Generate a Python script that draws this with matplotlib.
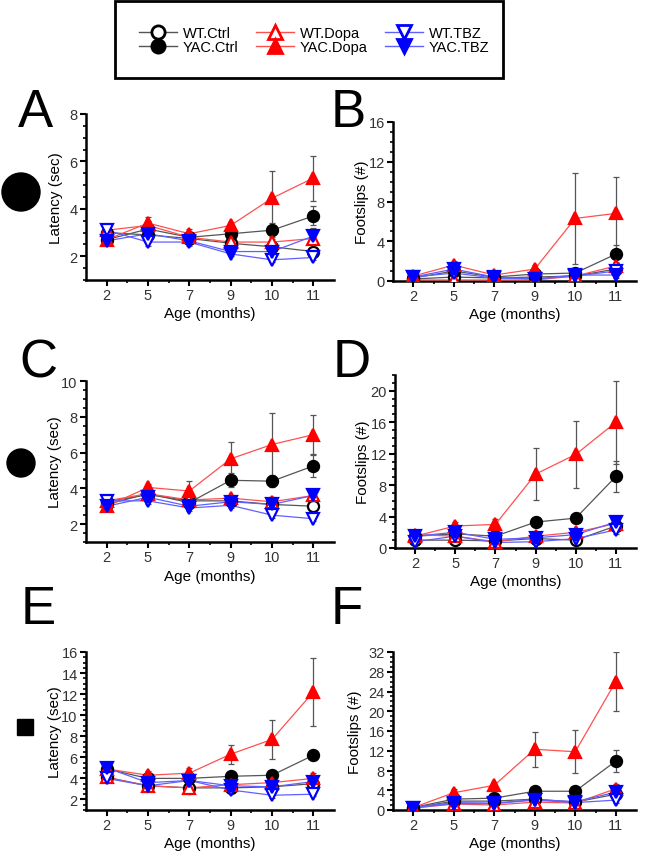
import matplotlib
matplotlib.use('Agg')
import matplotlib.pyplot as plt
import matplotlib.patches as patches
from matplotlib.lines import Line2D
from matplotlib.ticker import MultipleLocator

plt.rcParams['font.family'] = ['Liberation Sans', 'DejaVu Sans']

ages = ['2', '5', '7', '9', '10', '11']
groups = ['WT.Ctrl', 'YAC.Ctrl', 'WT.Dopa', 'YAC.Dopa', 'WT.TBZ', 'YAC.TBZ']

# panel A - latency
A_mean = [[3.0, 2.9, 2.75, 2.55, 2.4, 2.2],
          [2.7, 3.15, 2.8, 2.95, 3.1, 3.7],
          [3.1, 3.3, 2.8, 2.6, 2.6, 2.75],
          [2.7, 3.4, 2.95, 3.3, 4.45, 5.3],
          [3.1, 2.6, 2.6, 2.1, 1.85, 1.95],
          [2.65, 2.95, 2.65, 2.2, 2.2, 2.85]]
A_err = [[0.15, 0.2, 0.15, 0.15, 0.15, 0.2],
         [0.15, 0.3, 0.15, 0.2, 0.3, 0.4],
         [0.15, 0.2, 0.15, 0.15, 0.15, 0.15],
         [0.15, 0.25, 0.2, 0.15, 1.15, 0.95],
         [0.1, 0.15, 0.15, 0.1, 0.1, 0.1],
         [0.1, 0.15, 0.15, 0.1, 0.15, 0.35]]

# panel B - footslips
B_mean = [[0.2, 0.4, 0.3, 0.4, 0.5, 1.2],
          [0.3, 1.0, 0.4, 0.7, 0.8, 2.7],
          [0.1, 0.1, 0.1, 0.1, 0.5, 1.5],
          [0.5, 1.6, 0.6, 1.2, 6.3, 6.8],
          [0.4, 0.8, 0.3, 0.2, 0.5, 1.0],
          [0.4, 1.2, 0.4, 0.2, 0.6, 0.6]]
B_err = [[0.1, 0.2, 0.1, 0.2, 0.2, 0.3],
         [0.2, 0.4, 0.2, 0.3, 0.3, 0.9],
         [0.1, 0.1, 0.1, 0.1, 0.2, 0.4],
         [0.2, 0.4, 0.2, 0.4, 4.6, 3.7],
         [0.2, 0.3, 0.1, 0.1, 0.2, 0.3],
         [0.2, 0.3, 0.2, 0.1, 0.2, 0.3]]

# panel C - latency
C_mean = [[3.25, 3.65, 3.3, 3.3, 3.1, 3.0],
          [3.1, 3.7, 3.2, 4.45, 4.4, 5.25],
          [3.3, 3.7, 3.35, 3.45, 3.25, 3.6],
          [3.0, 4.05, 3.85, 5.65, 6.45, 7.0],
          [3.3, 3.3, 2.9, 3.05, 2.5, 2.3],
          [3.0, 3.5, 3.0, 3.25, 3.1, 3.6]]
C_err = [[0.15, 0.2, 0.15, 0.2, 0.2, 0.2],
         [0.15, 0.2, 0.2, 0.4, 0.35, 0.6],
         [0.15, 0.2, 0.2, 0.2, 0.25, 0.3],
         [0.15, 0.2, 0.55, 0.95, 1.75, 1.1],
         [0.15, 0.15, 0.15, 0.15, 0.15, 0.15],
         [0.15, 0.2, 0.15, 0.15, 0.2, 0.3]]

# panel D - footslips
D_mean = [[1.0, 1.0, 0.9, 1.2, 1.0, 2.8],
          [1.5, 1.8, 1.5, 3.3, 3.8, 9.1],
          [1.7, 1.5, 0.8, 1.5, 2.0, 3.1],
          [1.5, 2.8, 3.0, 9.4, 11.9, 16.0],
          [0.8, 1.5, 0.7, 0.8, 1.2, 2.3],
          [1.5, 2.0, 1.1, 1.3, 1.7, 3.3]]
D_err = [[0.3, 0.3, 0.3, 0.3, 0.3, 0.6],
         [0.3, 0.4, 0.4, 0.6, 0.6, 2.0],
         [0.3, 0.4, 0.3, 0.3, 0.4, 0.7],
         [0.3, 0.5, 0.7, 3.3, 4.3, 5.3],
         [0.3, 0.3, 0.2, 0.3, 0.3, 0.5],
         [0.3, 0.4, 0.3, 0.3, 0.4, 0.7]]

# panel E - latency
E_mean = [[4.1, 3.3, 3.1, 3.1, 3.2, 3.5],
          [4.9, 4.0, 4.0, 4.2, 4.3, 6.2],
          [4.1, 3.3, 3.1, 3.4, 3.6, 4.0],
          [4.9, 4.3, 4.5, 6.3, 7.7, 12.2],
          [4.0, 3.3, 3.8, 2.9, 2.4, 2.5],
          [5.0, 3.6, 3.8, 3.3, 3.2, 3.7]]
E_err = [[0.3, 0.3, 0.3, 0.3, 0.3, 0.3],
         [0.3, 0.3, 0.3, 0.3, 0.4, 0.5],
         [0.3, 0.3, 0.3, 0.3, 0.4, 0.5],
         [0.4, 0.4, 0.5, 0.9, 1.85, 3.2],
         [0.3, 0.3, 0.3, 0.3, 0.3, 0.2],
         [0.4, 0.3, 0.3, 0.3, 0.3, 0.4]]

# panel F - footslips
F_mean = [[0.4, 1.8, 1.8, 2.2, 1.6, 3.2],
          [0.5, 2.2, 2.4, 3.8, 3.8, 9.9],
          [0.4, 1.2, 1.0, 1.6, 1.4, 4.3],
          [0.5, 3.5, 5.0, 12.3, 11.8, 26.0],
          [0.4, 1.3, 1.3, 2.0, 1.5, 2.0],
          [0.5, 1.5, 1.4, 2.1, 1.7, 3.6]]
F_err = [[0.3, 0.5, 0.5, 0.5, 0.4, 0.8],
         [0.3, 0.6, 0.6, 0.7, 0.7, 2.3],
         [0.3, 0.4, 0.4, 0.4, 0.4, 1.0],
         [0.3, 0.7, 0.7, 3.5, 4.4, 6.0],
         [0.3, 0.4, 0.4, 0.4, 0.4, 0.5],
         [0.3, 0.4, 0.4, 0.5, 0.4, 0.8]]

# style per group: marker, marker color, filled, line color
styles = [('o', 'black', False, '#555555'),
          ('o', 'black', True, '#555555'),
          ('^', '#ff0000', False, '#ff5050'),
          ('^', '#ff0000', True, '#ff5050'),
          ('v', '#0000ff', False, '#6060ff'),
          ('v', '#0000ff', True, '#6060ff')]

W, H = 660, 853
fig = plt.figure(figsize=(W / 100, H / 100), dpi=100)

# background overlay in pixel coords (legend box, symbols)
bg = fig.add_axes([0, 0, 1, 1])
bg.set_xlim(0, W)
bg.set_ylim(H, 0)
bg.axis('off')
bg.add_patch(patches.Rectangle((115, 2), 388, 77, fill=False, edgecolor='black', linewidth=2))
bg.add_patch(patches.Circle((21, 193), 19, color='black'))
bg.add_patch(patches.Circle((21, 464), 14, color='black'))
bg.add_patch(patches.Rectangle((17, 720), 16, 16, color='black'))


def px_axes(x0, x1, ytop, ybot):
    return fig.add_axes([x0 / W, 1 - ybot / H, (x1 - x0) / W, (ybot - ytop) / H])


panels = [
    ('A', A_mean, A_err, (86, 334, 115, 281), (1, 8), 2, 'Latency (sec)', -0.093, (18, 88)),
    ('B', B_mean, B_err, (393, 636, 123, 282), (0, 16), 4, 'Footslips (#)', -0.099, (331, 88)),
    ('C', C_mean, C_err, (86, 334, 382, 543), (1, 10), 2, 'Latency (sec)', -0.097, (19, 338)),
    ('D', D_mean, D_err, (395, 636, 376, 549), (0, 22), 4, 'Footslips (#)', -0.104, (333, 338)),
    ('E', E_mean, E_err, (86, 334, 653, 811), (1, 16), 2, 'Latency (sec)', -0.097, (21, 585)),
    ('F', F_mean, F_err, (393, 636, 653, 811), (0, 32), 4, 'Footslips (#)', -0.128, (331, 585)),
]

x = list(range(len(ages)))
for letter, means, errs, box, ylim, major, ylabel, ylx, lpos in panels:
    ax = px_axes(*box)
    for (mk, mc, filled, lc), m, e in zip(styles, means, errs):
        ax.errorbar(x, m, yerr=e, fmt='none', ecolor='#555555', elinewidth=0.9,
                    capsize=2.5, capthick=0.9, zorder=2)
        ax.plot(x, m, color=lc, linewidth=0.9, zorder=3)
        ax.plot(x, m, linestyle='none', marker=mk, markersize=8,
                markerfacecolor=mc if filled else 'white', markeredgecolor=mc,
                markeredgewidth=1.6, zorder=4)
    ax.set_xlim(-0.5, 5.5)
    ax.set_ylim(*ylim)
    ax.set_xticks(x)
    ax.set_xticklabels(ages)
    ax.set_xticks([i + 0.5 for i in x[:-1]], minor=True)
    ax.yaxis.set_major_locator(MultipleLocator(major))
    ax.yaxis.set_minor_locator(MultipleLocator(major / 4))
    for s in ['top', 'right']:
        ax.spines[s].set_visible(False)
    for s in ['left', 'bottom']:
        ax.spines[s].set_linewidth(1.8)
    ax.tick_params(which='major', length=4, width=1.5, labelsize=10.5, labelcolor='#333333', pad=2)
    ax.tick_params(which='minor', length=2.5, width=1.2)
    ax.set_xlabel('Age (months)', fontsize=11, labelpad=3)
    ax.set_ylabel(ylabel, fontsize=11)
    ax.yaxis.set_label_coords(ylx, 0.5)
    ax.set_facecolor('none')
    fig.text(lpos[0] / W, 1 - lpos[1] / H, letter, fontsize=38, va='top', ha='left')

handles = []
for g, (mk, mc, filled, lc) in zip(groups, styles):
    handles.append(Line2D([], [], color=lc, linewidth=1,
                          marker=mk, markersize=9.5,
                          markerfacecolor=mc if filled else 'white', markeredgecolor=mc,
                          markeredgewidth=2, label=g))
fig.legend(handles=handles, ncol=3, loc='center', bbox_to_anchor=(314 / W, 1 - 41 / H),
           frameon=False, fontsize=10.5, handlelength=2.6, labelspacing=0.0,
           columnspacing=1.2, handletextpad=0.4)

fig.savefig('out.png', dpi=100)
